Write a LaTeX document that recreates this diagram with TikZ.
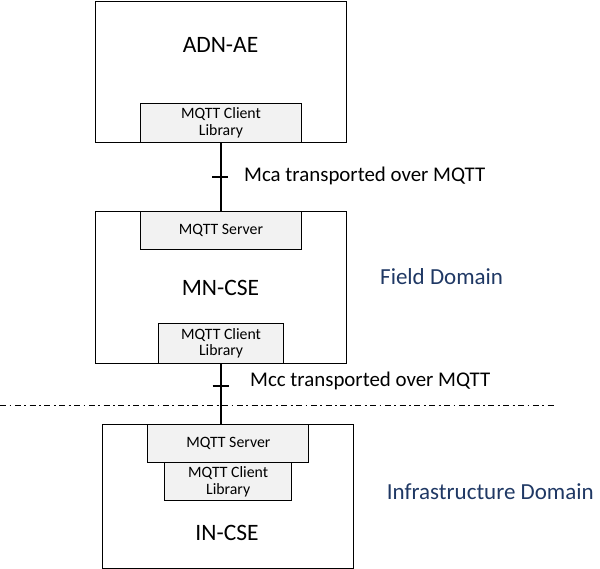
\documentclass[tikz,border=0pt]{standalone}
\usepackage{fontspec}
\setmainfont{Carlito}
\begin{document}
\begin{tikzpicture}[x=1pt,y=-1pt,
  outer/.style={draw, line width=1.3pt, fill=white, anchor=north west, inner sep=0pt},
  lib/.style={draw, line width=1.1pt, fill=black!5, anchor=north west, inner sep=0pt, align=center, font=\fontsize{15.8}{16.7}\selectfont},
  big/.style={font=\fontsize{23.5}{27}\selectfont, inner sep=0pt},
  conn/.style={font=\fontsize{20.9}{24}\selectfont, inner sep=0pt, anchor=west},
  dom/.style={font=\fontsize{23}{27}\selectfont, inner sep=0pt, anchor=west, text=domblue},
  wire/.style={line width=1.3pt}]
\definecolor{domblue}{RGB}{31,56,100}
\useasboundingbox (0,0) rectangle (600,569);
% ADN-AE
\node[outer, minimum width=251pt, minimum height=141pt] (adn) at (95,1) {};
\node[big] (adnlbl) at (220.5,45) {ADN-AE};
\node[lib, minimum width=160.5pt, minimum height=39pt] (adncl) at (140.2,103) {MQTT Client\\Library};
% MN-CSE
\node[outer, minimum width=251pt, minimum height=152pt] (mn) at (95,210.7) {};
\node[lib, minimum width=160.5pt, minimum height=38.3pt] (mnsrv) at (140.2,210.7) {MQTT Server};
\node[big] (mnlbl) at (220.5,288) {MN-CSE};
\node[lib, minimum width=125.6pt, minimum height=40pt] (mncl) at (157.7,322.7) {MQTT Client\\Library};
% IN-CSE
\node[outer, minimum width=251pt, minimum height=143.7pt] (in) at (101.7,424) {};
\node[lib, minimum width=161pt, minimum height=38.3pt] (insrv) at (147.3,424) {MQTT Server};
\node[lib, minimum width=127.3pt, minimum height=37.7pt] (incl) at (164,462.3) {MQTT Client\\Library};
\node[big] (inlbl) at (227,533) {IN-CSE};
% connectors
\draw[wire] (adncl.south) -- (mnsrv.north);
\coordinate (inTop) at (mncl.south |- insrv.north);
\draw[wire] (mncl.south) -- (inTop);
\coordinate (t1) at (220.4,177);
\coordinate (t2) at (220.5,386);
\draw[wire] ([xshift=-8pt]t1) -- ([xshift=8pt]t1);
\draw[wire] ([xshift=-8pt]t2) -- ([xshift=8pt]t2);
\node[conn] (mca) at (244,176) {Mca transported over MQTT};
\node[conn] (mcc) at (250,381) {Mcc transported over MQTT};
% domains
\coordinate (dl) at (0,405.5);
\coordinate (dr) at (554,405.5);
\draw[line width=1.3pt, dash pattern=on 6pt off 3.5pt on 1.8pt off 3.5pt] (dl) -- (dr);
\node[dom] (field) at (380,277) {Field Domain};
\node[dom] (infra) at (386.7,492) {Infrastructure Domain};
\end{tikzpicture}
\end{document}
